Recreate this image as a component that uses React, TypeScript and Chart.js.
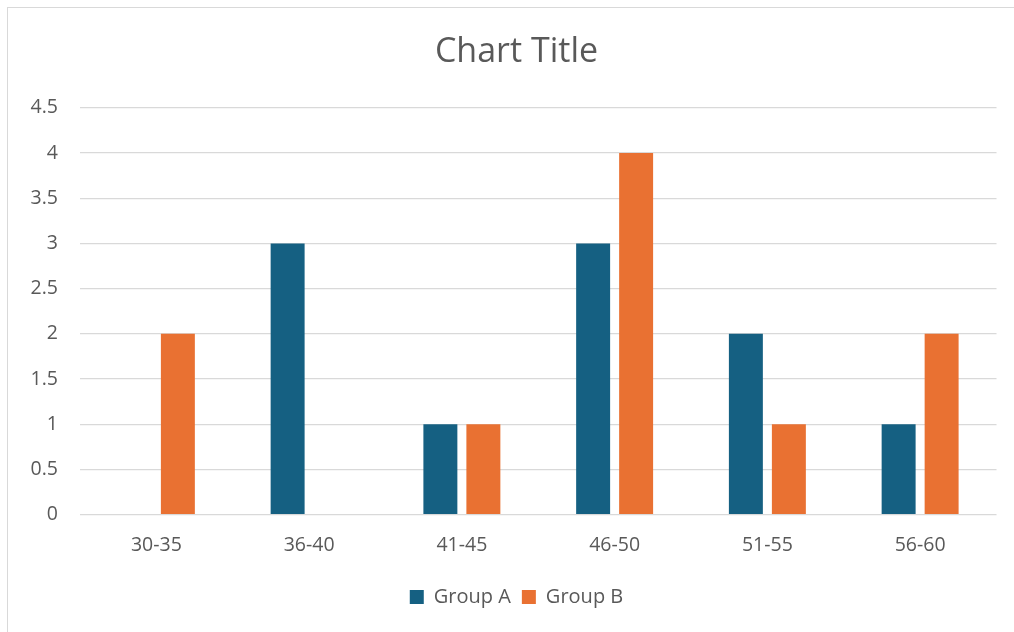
import React, { useEffect, useRef } from "react";
import { Chart, registerables } from "chart.js";

Chart.register(...registerables);

const categories = ["30-35", "36-40", "41-45", "46-50", "51-55", "56-60"];
const groupA = [0, 3, 1, 3, 2, 1];
const groupB = [2, 0, 1, 4, 1, 2];
const seriesNames = ["Group A", "Group B"];
const yTicks = [0, 0.5, 1, 1.5, 2, 2.5, 3, 3.5, 4, 4.5];

const FONT = "'Open Sans', 'Liberation Sans', sans-serif";
const TEXT = "#595959";

export default function App() {
  const ref = useRef<HTMLCanvasElement | null>(null);

  useEffect(() => {
    if (!ref.current) return;
    const chart = new Chart(ref.current, {
      type: "bar",
      data: {
        labels: categories,
        datasets: [
          {
            label: seriesNames[0],
            data: groupA,
            backgroundColor: "#156082",
            categoryPercentage: 0.563,
            barPercentage: 0.79,
          },
          {
            label: seriesNames[1],
            data: groupB,
            backgroundColor: "#E97132",
            categoryPercentage: 0.563,
            barPercentage: 0.79,
          },
        ],
      },
      options: {
        animation: false,
        responsive: false,
        maintainAspectRatio: false,
        layout: { padding: { left: 0, right: 0, top: 0, bottom: 15 } },
        plugins: {
          title: {
            display: true,
            text: "Chart Title",
            color: TEXT,
            font: { family: FONT, size: 34, weight: "normal" },
            padding: { top: 24, bottom: 35 },
          },
          legend: {
            position: "bottom",
            labels: {
              color: TEXT,
              font: { family: FONT, size: 20 },
              boxWidth: 14,
              boxHeight: 14,
              padding: 11,
            },
          },
          tooltip: { enabled: false },
        },
        scales: {
          x: {
            grid: { display: false, drawTicks: false },
            border: { display: false },
            ticks: { color: TEXT, font: { family: FONT, size: 19.5 }, padding: 19 },
          },
          y: {
            min: 0,
            max: 4.5,
            afterBuildTicks: (scale: any) => {
              scale.ticks = yTicks.map((v) => ({ value: v }));
            },
            afterFit: (scale: any) => {
              scale.width = 72;
            },
            grid: { color: "#d9d9d9", lineWidth: 1.3, drawTicks: false },
            border: { display: false },
            ticks: {
              color: TEXT,
              font: { family: FONT, size: 19.5 },
              padding: 22,
              callback: (v: any) => String(v),
            },
          },
          yRight: {
            position: "right",
            min: 0,
            max: 4.5,
            grid: { display: false, drawTicks: false },
            border: { display: false },
            ticks: { display: false },
            afterFit: (scale: any) => {
              scale.width = 28.5;
            },
          },
        },
      },
    });
    return () => chart.destroy();
  }, []);

  return (
    <div
      style={{
        position: "absolute",
        left: 7,
        top: 7,
        width: 1007,
        height: 625,
        overflow: "hidden",
        boxSizing: "border-box",
        borderTop: "1.5px solid #d9d9d9",
        borderLeft: "1.5px solid #d9d9d9",
        background: "#fff",
      }}
    >
      <canvas ref={ref} width={1017} height={624} style={{ display: "block" }} />
    </div>
  );
}
